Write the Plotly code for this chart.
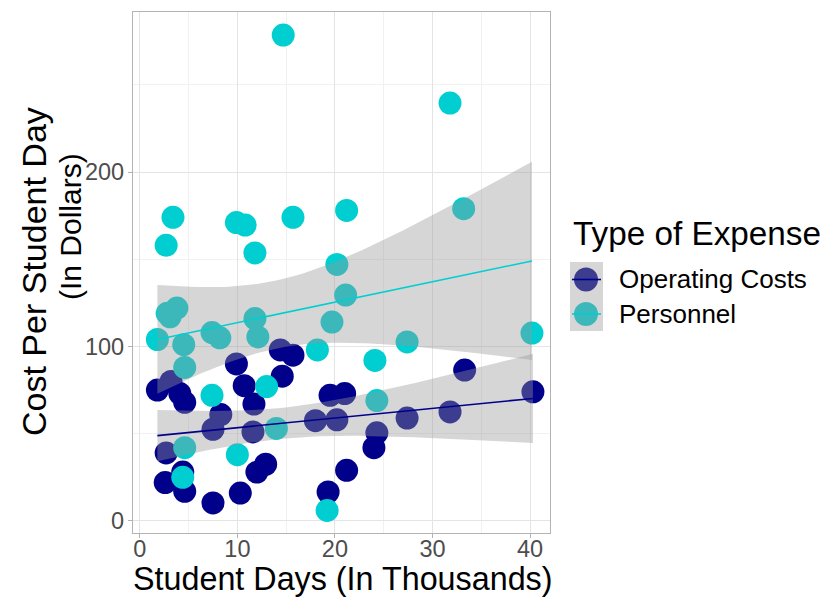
import math
from statistics import NormalDist

import numpy as np
import plotly.graph_objects as go

# Student days (thousands) and cost per student day (dollars), by expense type
op_x = [1.8, 3.2, 4.1, 4.6, 9.9, 10.7, 11.7, 14.4, 15.7, 14.6, 8.3, 7.5, 2.7, 2.6, 4.6,
        4.4, 7.5, 10.3, 12.0, 12.9, 11.6, 18.0, 20.2, 19.5, 21.0, 21.2, 19.3, 24.3, 24.0,
        27.4, 31.8, 33.3, 40.3]
op_y = [75, 80, 73, 68, 90, 77.5, 67, 98, 95, 83, 61, 52.5, 39, 22, 17,
        28, 10.3, 16, 28, 32.5, 51, 57.5, 58, 72, 73, 29, 16.6, 50.5, 42,
        59, 62.5, 86.5, 74]

pe_x = [14.7, 31.8, 33.2, 3.4, 2.7, 9.9, 10.8, 11.8, 15.7, 21.2, 20.2, 21.1, 19.7, 2.8,
        3.8, 3.1, 1.8, 4.5, 7.4, 8.2, 11.8, 12.1, 18.2, 24.1, 27.4, 40.2, 24.3, 13.0,
        7.4, 4.6, 4.6, 10.0, 14.0, 4.4, 19.2]
pe_y = [278.5, 239.5, 179, 174, 158, 171, 169.6, 153.6, 174, 178, 147, 129.5, 114, 119,
        122, 117, 104, 101, 108, 105, 116, 105.5, 98, 92, 102.6, 107.7, 69, 77,
        72, 88, 42, 38, 53, 25, 6]

series_names = ["Operating Costs", "Personnel"]
series_colors = ["#00008B", "#00CED1"]
x_ticks = [0, 10, 20, 30, 40]
y_ticks = [0, 100, 200]

W, H = 839, 600
L, R, T, B = 133, 289, 12, 67
FONT = "Liberation Sans, Arial, sans-serif"


def t_quantile(p, df):
    # Cornish-Fisher expansion of the Student t quantile
    z = NormalDist().inv_cdf(p)
    return (z + (z**3 + z) / (4 * df)
            + (5 * z**5 + 16 * z**3 + 3 * z) / (96 * df**2)
            + (3 * z**7 + 19 * z**5 + 17 * z**3 - 15 * z) / (384 * df**3))


def linear_fit(x, y, n_out=80, level=0.95):
    x = np.asarray(x, float)
    y = np.asarray(y, float)
    n = len(x)
    b1, b0 = np.polyfit(x, y, 1)
    resid = y - (b0 + b1 * x)
    s = math.sqrt(np.sum(resid**2) / (n - 2))
    xbar = x.mean()
    sxx = np.sum((x - xbar) ** 2)
    xs = np.linspace(x.min(), x.max(), n_out)
    fit = b0 + b1 * xs
    se = s * np.sqrt(1 / n + (xs - xbar) ** 2 / sxx)
    t = t_quantile(1 - (1 - level) / 2, n - 2)
    return xs, fit, fit - t * se, fit + t * se


fig = go.Figure()

groups = [(op_x, op_y, series_names[0], series_colors[0]),
          (pe_x, pe_y, series_names[1], series_colors[1])]

# points first, smoother ribbons drawn over them
for xs, ys, name, col in groups:
    fig.add_trace(go.Scatter(
        x=xs, y=ys, mode="markers", name=name, showlegend=False,
        marker=dict(size=23, color=col, line=dict(width=0)),
    ))

for xs, ys, name, col in groups:
    gx, gfit, glo, ghi = linear_fit(xs, ys)
    fig.add_trace(go.Scatter(x=gx, y=glo, mode="lines", line=dict(width=0),
                             showlegend=False, hoverinfo="skip"))
    fig.add_trace(go.Scatter(x=gx, y=ghi, mode="lines", line=dict(width=0),
                             fill="tonexty", fillcolor="rgba(153,153,153,0.4)",
                             showlegend=False, hoverinfo="skip"))
    fig.add_trace(go.Scatter(x=gx, y=gfit, mode="lines", line=dict(color=col, width=1.6),
                             showlegend=False, hoverinfo="skip"))

axis_common = dict(
    showline=True, mirror=True, linecolor="#B3B3B3", linewidth=1.2,
    ticks="outside", ticklen=4, tickcolor="#B3B3B3", tickwidth=1,
    showgrid=True, gridcolor="#E4E4E4", gridwidth=1, zeroline=False,
    tickfont=dict(family=FONT, size=23.5, color="#4D4D4D"),
    minor=dict(showgrid=True, gridcolor="#F1F1F1", gridwidth=0.6, ticks=""),
)

fig.update_xaxes(
    range=[-0.7, 42.05], tickvals=x_ticks, ticktext=[str(v) for v in x_ticks],
    minor_dtick=5, ticklabelstandoff=-9,
    **axis_common,
)
fig.update_yaxes(
    range=[-6.9, 291.7], tickvals=y_ticks, ticktext=[str(v) for v in y_ticks],
    minor_dtick=50, ticklabelstandoff=-1,
    **axis_common,
)


def px_x(p):
    return (p - L) / (W - L - R)


def px_y(p):
    return (H - B - p) / (H - T - B)


def label(text, x, y, size, xanchor="left", angle=0):
    return dict(text=text, xref="paper", yref="paper", x=px_x(x), y=px_y(y),
                xanchor=xanchor, yanchor="middle", showarrow=False, textangle=angle,
                font=dict(family=FONT, size=size, color="#000000"))


# axis titles
annotations = [
    label("Student Days (In Thousands)", 343, 579, 32.3, xanchor="center"),
    label("Cost Per Student Day", 34, 272, 34, xanchor="center", angle=-90),
    label("(In Dollars)", 70, 227, 30, xanchor="center", angle=-90),
]

# legend built from layout items
shapes = []
annotations.append(label("Type of Expense", 571, 234, 33.3))
key_rows = [(262, 297), (297, 331)]
for (top, bot), name, col in zip(key_rows, series_names, series_colors):
    cy = (top + bot) / 2
    shapes.append(dict(type="circle", xref="paper", yref="paper",
                       xsizemode="pixel", ysizemode="pixel",
                       xanchor=px_x(586), yanchor=px_y(cy),
                       x0=-12, x1=12, y0=-12, y1=12,
                       fillcolor=col, line=dict(width=0), layer="above"))
    shapes.append(dict(type="rect", xref="paper", yref="paper",
                       x0=px_x(570), x1=px_x(603), y0=px_y(bot), y1=px_y(top),
                       fillcolor="rgba(153,153,153,0.4)", line=dict(width=0),
                       layer="above"))
    shapes.append(dict(type="line", xref="paper", yref="paper",
                       x0=px_x(572), x1=px_x(601), y0=px_y(cy), y1=px_y(cy),
                       line=dict(color=col, width=1.6), layer="above"))
    annotations.append(label(name, 617, cy, 26))

fig.update_layout(
    width=W, height=H,
    margin=dict(l=L, r=R, t=T, b=B),
    paper_bgcolor="white", plot_bgcolor="white",
    showlegend=False,
    shapes=shapes, annotations=annotations,
    font=dict(family=FONT),
)

fig.write_html("out.html")
